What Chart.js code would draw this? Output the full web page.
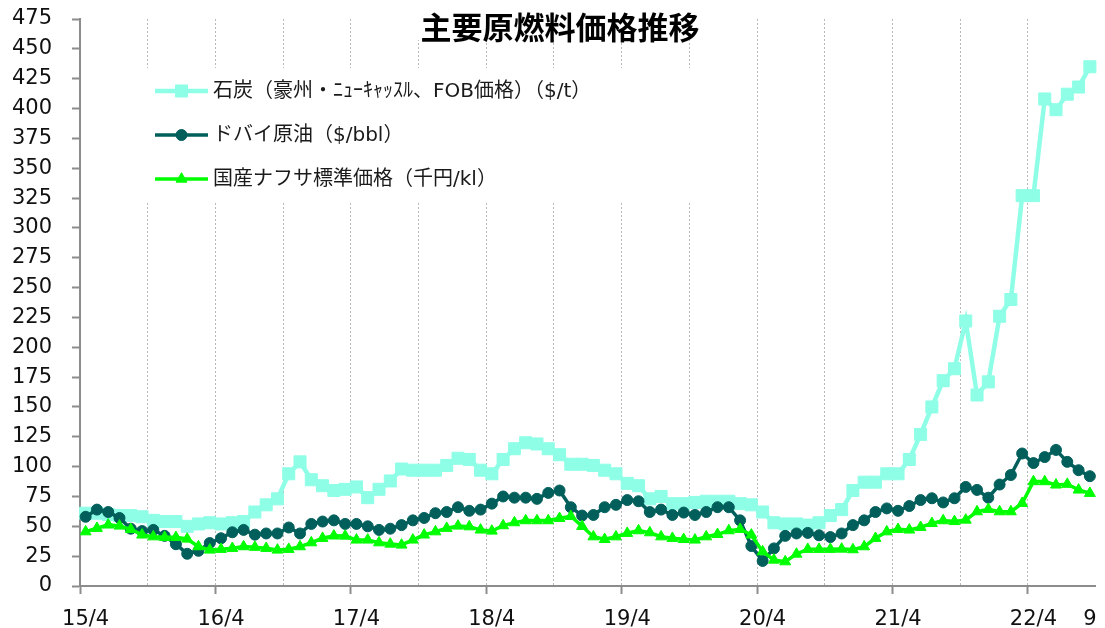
<!DOCTYPE html>
<html>
<head>
<meta charset="utf-8">
<script src="https://cdn.jsdelivr.net/npm/chart.js@4.4.0/dist/chart.umd.min.js"></script>
<style>
  html, body { margin: 0; padding: 0; background: #fff; }
</style>
</head>
<body>
<canvas id="priceChart" width="1105" height="628"></canvas>
<script>
// 月次（15/4 〜 22/9）
const months = [
  '15/4','15/5','15/6','15/7','15/8','15/9','15/10','15/11','15/12','16/1','16/2','16/3',
  '16/4','16/5','16/6','16/7','16/8','16/9','16/10','16/11','16/12','17/1','17/2','17/3',
  '17/4','17/5','17/6','17/7','17/8','17/9','17/10','17/11','17/12','18/1','18/2','18/3',
  '18/4','18/5','18/6','18/7','18/8','18/9','18/10','18/11','18/12','19/1','19/2','19/3',
  '19/4','19/5','19/6','19/7','19/8','19/9','19/10','19/11','19/12','20/1','20/2','20/3',
  '20/4','20/5','20/6','20/7','20/8','20/9','20/10','20/11','20/12','21/1','21/2','21/3',
  '21/4','21/5','21/6','21/7','21/8','21/9','21/10','21/11','21/12','22/1','22/2','22/3',
  '22/4','22/5','22/6','22/7','22/8','22/9'
];

// 石炭（豪州・ﾆｭｰｷｬｯｽﾙ、FOB価格）（$/t）
const coal = [
  61, 61, 60, 59, 59, 58, 55, 54, 54, 50, 52, 53,
  52, 53, 54, 62, 68, 73, 94, 104, 89, 84, 80, 81,
  83, 74, 81, 88, 98, 97, 97, 97, 101, 107, 106, 97,
  94, 106, 115, 120, 119, 115, 110, 102, 102, 101, 97, 94,
  86, 84, 73, 75, 69, 69, 70, 71, 71, 71, 69, 68,
  62, 53, 52, 52, 51, 53, 59, 64, 80, 87, 87, 94,
  94, 106, 127, 150, 172, 182, 222, 160, 171, 226, 240, 327,
  327, 408, 399, 412, 418, 435
];

// ドバイ原油（$/bbl）
const dubai = [
  58, 64, 62, 57, 48, 46, 47, 42, 35, 27, 29.5, 36,
  40, 45, 47, 43, 44, 44, 49, 44, 52, 54, 55, 52,
  52, 50, 47, 48, 51, 55, 57, 61, 62, 66, 63, 64,
  69, 75, 74, 74, 73, 78, 80, 66, 59, 59.5, 66, 68,
  72, 71, 62, 64, 59.5, 61.5, 59.5, 62, 66, 66, 55, 33.5,
  21, 31.5, 42, 44, 44.5, 42.5, 41, 44, 51, 55, 62, 65,
  63, 67, 72, 73.5, 70, 73.5, 83, 80.5, 74, 85, 93, 111,
  103, 108, 114, 104, 97, 92
];

// 国産ナフサ標準価格（千円/kl）
const naphtha = [
  45.5, 48.4, 51.2, 50.3, 47.5, 42.8, 41.3, 40.8, 40.8, 39.4, 33, 30.2,
  30.8, 31.6, 33, 32.5, 31.6, 30.2, 30.8, 33, 36.3, 40, 42, 41.9,
  38.6, 38.6, 36.3, 35.2, 34.4, 38.6, 42.8, 45.5, 48.4, 50.3, 49.7, 47,
  46.1, 50.6, 53.1, 54.8, 54.8, 54.8, 56.7, 58.4, 50, 41.3, 39.1, 41.3,
  44.2, 46.4, 44.7, 41.3, 40, 39.1, 38.6, 41.3, 43.3, 46.4, 47.5, 42.8,
  28.8, 21.8, 20.4, 26.8, 30.8, 30.8, 30.8, 31, 30.5, 33, 40, 45.5,
  47.5, 47, 49.2, 52.5, 54.8, 54.1, 55.3, 62.3, 64.3, 62.3, 62.3, 69.3,
  87.5, 87.5, 84.7, 85.3, 80.5, 77.7
];

const seriesNames = [
  '石炭（豪州・ﾆｭｰｷｬｯｽﾙ、FOB価格）（$/t）',
  'ドバイ原油（$/bbl）',
  '国産ナフサ標準価格（千円/kl）'
];
const yTicks = { min: 0, max: 475, step: 25 };

const FONT = '"DejaVu Sans", "Noto Sans CJK JP", sans-serif';
const AXIS_GRAY = '#8c8c8c';

function drawMarker(ctx, style, r, x, y) {
  ctx.beginPath();
  if (style === 'rect') {
    const s = r * Math.SQRT1_2;
    ctx.rect(x - s, y - s, 2 * s, 2 * s);
  } else if (style === 'triangle') {
    const c = r * Math.cos(Math.PI / 6);
    ctx.moveTo(x, y - r);
    ctx.lineTo(x + c, y + r / 2);
    ctx.lineTo(x - c, y + r / 2);
    ctx.closePath();
  } else {
    ctx.arc(x, y, r, 0, Math.PI * 2);
  }
  ctx.fill();
  ctx.stroke();
}

// タイトルと凡例はプロット内に白抜きで描く
const overlay = {
  id: 'overlay',
  beforeDatasetsDraw(chart) {
    const ctx = chart.ctx;
    ctx.save();
    ctx.fillStyle = '#fff';
    ctx.fillRect(400, 0, 320, 40);
    ctx.fillRect(135, 68, 570, 135);
    ctx.restore();
  },
  afterDraw(chart) {
    const ctx = chart.ctx;
    ctx.save();
    ctx.fillStyle = '#000';
    ctx.font = 'bold 31px "Noto Sans CJK JP", sans-serif';
    ctx.textAlign = 'center';
    ctx.textBaseline = 'middle';
    ctx.fillText('主要原燃料価格推移', 560, 27);

    ctx.font = '20px ' + FONT;
    ctx.textAlign = 'left';
    chart.data.datasets.forEach((ds, i) => {
      const y = 91 + i * 44;
      ctx.strokeStyle = ds.borderColor;
      ctx.lineWidth = ds.borderWidth;
      ctx.beginPath();
      ctx.moveTo(155, y);
      ctx.lineTo(208, y);
      ctx.stroke();
      ctx.fillStyle = ds.pointBackgroundColor;
      ctx.lineWidth = 1;
      drawMarker(ctx, ds.pointStyle, ds.pointRadius, 181.5, y);
      ctx.fillStyle = '#1a1a1a';
      ctx.fillText(ds.label, 213, y + 1);
    });
    ctx.restore();
  }
};

function noPadding(s) {
  s.paddingTop = 0;
  s.paddingBottom = 0;
  s.paddingLeft = 0;
  s.paddingRight = 0;
}

const ctx = document.getElementById('priceChart').getContext('2d');
const priceChart = new Chart(ctx, {
  type: 'line',
  data: {
    labels: months,
    datasets: [{
      label: seriesNames[0],
      data: coal,
      borderColor: '#8effe6',
      backgroundColor: '#8effe6',
      pointBackgroundColor: '#8effe6',
      pointBorderColor: '#8effe6',
      borderWidth: 4.5,
      pointStyle: 'rect',
      pointRadius: 8.5,
      pointBorderWidth: 1,
      order: 3
    }, {
      label: seriesNames[1],
      data: dubai,
      borderColor: '#005f5b',
      backgroundColor: '#005f5b',
      pointBackgroundColor: '#005f5b',
      pointBorderColor: '#005f5b',
      borderWidth: 3.5,
      pointStyle: 'circle',
      pointRadius: 5.5,
      pointBorderWidth: 1,
      order: 2
    }, {
      label: seriesNames[2],
      data: naphtha,
      borderColor: '#00ff00',
      backgroundColor: '#00ff00',
      pointBackgroundColor: '#00ff00',
      pointBorderColor: '#00ff00',
      borderWidth: 3.5,
      pointStyle: 'triangle',
      pointRadius: 6.3,
      pointBorderWidth: 1,
      order: 1
    }]
  },
  options: {
    responsive: false,
    animation: false,
    events: [],
    layout: { padding: { top: 19, right: 0, left: 0, bottom: 0 } },
    plugins: {
      legend: { display: false },
      tooltip: { enabled: false }
    },
    scales: {
      x: {
        offset: true,
        grid: {
          offset: true,
          lineWidth: 1,
          color: c => (c.index > 0 && c.index % 6 === 0) ? '#b9b9b9' : 'rgba(0,0,0,0)',
          tickLength: 8,
          tickWidth: 2,
          tickColor: c => (c.index % 12 === 0 && c.index < months.length) ? AXIS_GRAY : 'rgba(0,0,0,0)'
        },
        border: { color: AXIS_GRAY, width: 2, dash: [2, 2] },
        ticks: {
          autoSkip: false,
          maxRotation: 0,
          padding: 13,
          color: '#111',
          font: { family: FONT, size: 21 },
          callback: (v, i) => {
            if (i % 12 === 0) return months[i];
            if (i === months.length - 1) return months[i].split('/')[1];
            return '';
          }
        },
        afterFit: s => { s.height = 42; noPadding(s); }
      },
      y: {
        min: yTicks.min,
        max: yTicks.max,
        ticks: {
          stepSize: yTicks.step,
          padding: 20,
          color: '#111',
          font: { family: FONT, size: 21 }
        },
        grid: {
          drawOnChartArea: false,
          tickLength: 8,
          tickWidth: 2,
          tickColor: AXIS_GRAY
        },
        border: { color: AXIS_GRAY, width: 2 },
        afterFit: s => { s.width = 80; noPadding(s); }
      }
    }
  },
  plugins: [overlay]
});
</script>
</body>
</html>
